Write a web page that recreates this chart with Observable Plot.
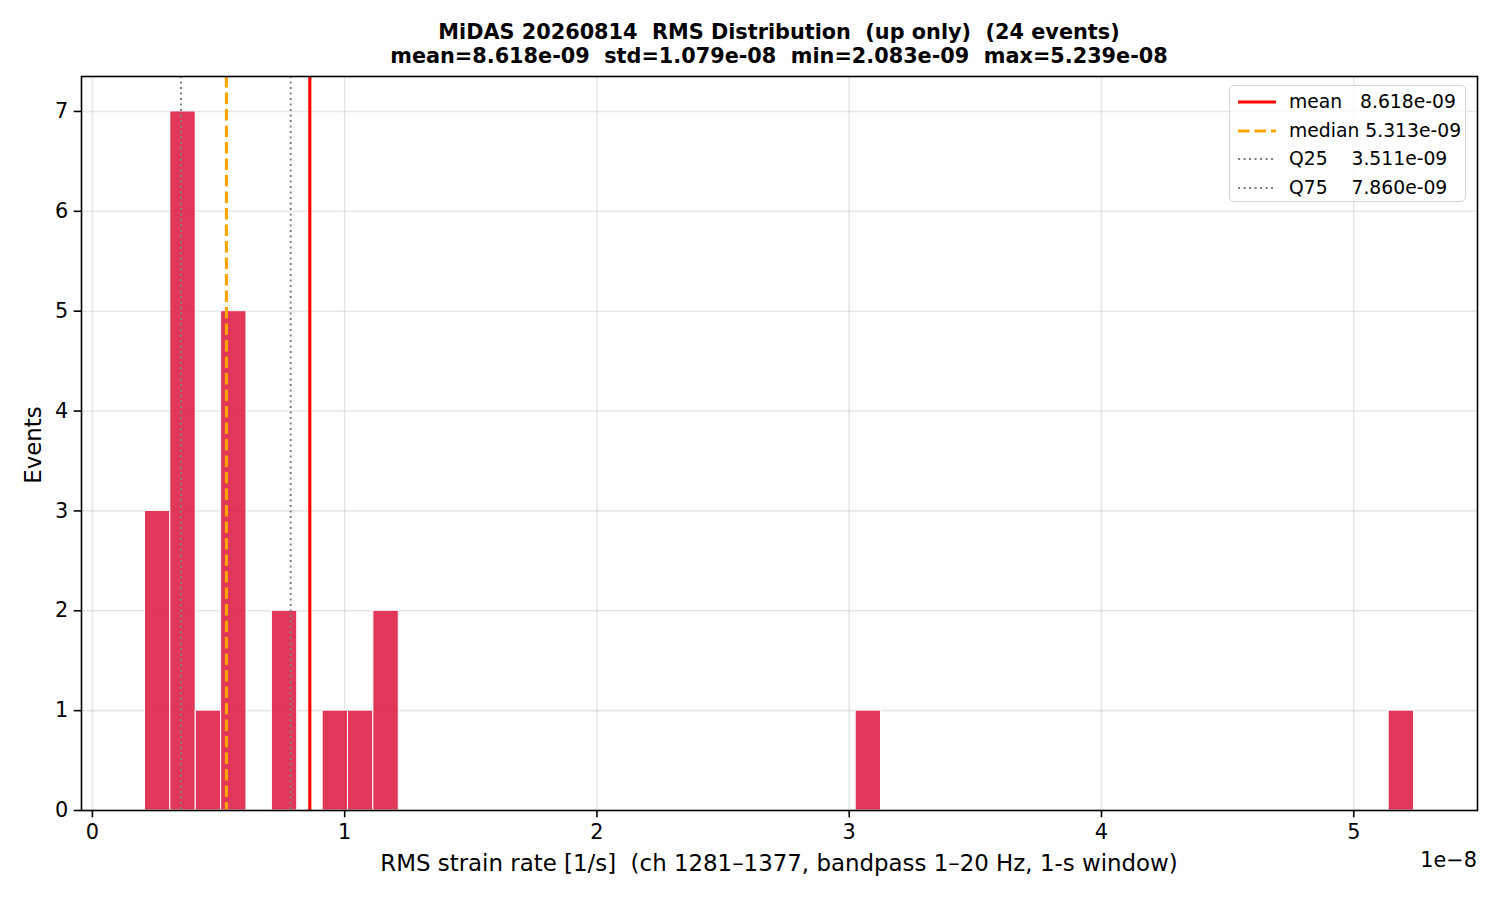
<!DOCTYPE html>
<html>
<head>
<meta charset="utf-8">
<script src="https://cdn.jsdelivr.net/npm/d3@7"></script>
<script src="https://cdn.jsdelivr.net/npm/@observablehq/plot@0.6"></script>
<style>
  body { margin: 0; background: white; font-family: "DejaVu Sans", sans-serif; }
  #wrap { position: relative; width: 1500px; height: 900px; overflow: hidden; }
  .abs { position: absolute; white-space: pre; color: #000; }
  #title { left: 0; width: 1558px; top: 21px; text-align: center; font-weight: bold; font-size: 20.8px; line-height: 23.5px; }
  #xlabel { left: 0; width: 1558px; top: 850px; text-align: center; font-size: 22.9px; line-height: 26px; }
  #ylabel { left: 33px; top: 445px; font-size: 22.9px; line-height: 26px; transform: translate(-50%, -50%) rotate(-90deg); transform-origin: center; }
  #offset { right: 23px; top: 847px; font-size: 20.8px; line-height: 26px; }
  #legend { left: 1229px; top: 85px; width: 237px; height: 117px; border: 1px solid #d4d4d4; border-radius: 5px; background: rgba(255,255,255,0.8); box-sizing: border-box; }
  .item { position: absolute; left: 0; width: 100%; height: 28px; }
  .item svg { position: absolute; left: 7px; top: 6px; }
  .item span { position: absolute; left: 59px; top: 2px; font-size: 18.75px; line-height: 24px; white-space: pre; }
</style>
</head>
<body>
<div id="wrap">
  <div id="chart" style="position:absolute;left:0;top:0"></div>
  <div class="abs" id="title"></div>
  <div class="abs" id="xlabel"></div>
  <div class="abs" id="ylabel"></div>
  <div class="abs" id="offset">1e−8</div>
  <div class="abs" id="legend"></div>
</div>
<script>
// ---- data ----
const titleLines = [
  "MiDAS 20260814  RMS Distribution  (up only)  (24 events)",
  "mean=8.618e-09  std=1.079e-08  min=2.083e-09  max=5.239e-08"
];
const xLabel = "RMS strain rate [1/s]  (ch 1281–1377, bandpass 1–20 Hz, 1-s window)";
const yLabel = "Events";
const dataMin = 2.083e-9;
const dataMax = 5.239e-8;
// 50 histogram bins between dataMin and dataMax
const binCounts = [
  3, 7, 1, 5, 0, 2, 0, 1, 1, 2,
  0, 0, 0, 0, 0, 0, 0, 0, 0, 0,
  0, 0, 0, 0, 0, 0, 0, 0, 1, 0,
  0, 0, 0, 0, 0, 0, 0, 0, 0, 0,
  0, 0, 0, 0, 0, 0, 0, 0, 0, 1
];
const statNames  = ["mean", "median", "Q25", "Q75"];
const statValues = [8.618e-9, 5.313e-9, 3.511e-9, 7.860e-9];
const statLabels = ["mean   8.618e-09", "median 5.313e-09", "Q25    3.511e-09", "Q75    7.860e-09"];
const xTicks = [0, 1e-8, 2e-8, 3e-8, 4e-8, 5e-8];
const yTicks = [0, 1, 2, 3, 4, 5, 6, 7];

// ---- derived table ----
const nBins = binCounts.length;
const bw = (dataMax - dataMin) / nBins;
const bins = binCounts.map((c, i) => ({x1: dataMin + i * bw, x2: dataMin + (i + 1) * bw, count: c}))
  .filter(d => d.count > 0);
const span = dataMax - dataMin;
const xDomain = [dataMin - 0.05 * span, dataMax + 0.05 * span];
const yDomain = [0, 7 * 1.05];

const styles = {
  mean:   {stroke: "red", strokeWidth: 3.1},
  median: {stroke: "orange", strokeWidth: 3.1, strokeDasharray: "11.5,5"},
  Q25:    {stroke: "gray", strokeWidth: 2.0, strokeDasharray: "2.1,3.4"},
  Q75:    {stroke: "gray", strokeWidth: 2.0, strokeDasharray: "2.1,3.4"}
};
const xFmt = d => String(Math.round(d / 1e-8));
const yFmt = d => String(d);

const plot = Plot.plot({
  width: 1500,
  height: 900,
  marginLeft: 81,
  marginRight: 23,
  marginTop: 76,
  marginBottom: 90,
  style: {fontFamily: "DejaVu Sans, sans-serif", fontSize: "20.8px", color: "#000", background: "white"},
  x: {domain: xDomain, label: null},
  y: {domain: yDomain, label: null},
  marks: [
    Plot.gridX(xTicks, {stroke: "#b0b0b0", strokeOpacity: 0.3, strokeWidth: 1.6}),
    Plot.gridY(yTicks, {stroke: "#b0b0b0", strokeOpacity: 0.3, strokeWidth: 1.6}),
    Plot.rectY(bins, {x1: "x1", x2: "x2", y: "count", fill: "#DC143C", fillOpacity: 0.85, stroke: "white", strokeWidth: 1}),
    ...statNames.map((n, i) => Plot.ruleX([statValues[i]], styles[n])),
    Plot.axisX(xTicks, {tickSize: 7.3, tickPadding: 6, tickFormat: xFmt, fontSize: 20.8, label: null, stroke: "#000", strokeWidth: 1.6}),
    Plot.axisY(yTicks, {tickSize: 7.3, tickPadding: 6, tickFormat: yFmt, fontSize: 20.8, label: null, stroke: "#000", strokeWidth: 1.6}),
    Plot.frame({stroke: "#000", strokeWidth: 1.6})
  ]
});
document.getElementById("chart").appendChild(plot);

document.getElementById("title").textContent = titleLines.join("\n");
document.getElementById("xlabel").textContent = xLabel;
document.getElementById("ylabel").textContent = yLabel;

// legend
const leg = document.getElementById("legend");
statNames.forEach((n, i) => {
  const s = styles[n];
  const div = document.createElement("div");
  div.className = "item";
  div.style.top = (2 + i * 28.5) + "px";
  div.innerHTML = `<svg width="42" height="16"><line x1="1" x2="39" y1="8" y2="8" stroke="${s.stroke}" stroke-width="${s.strokeWidth}" ${s.strokeDasharray ? `stroke-dasharray="${s.strokeDasharray}"` : ""}/></svg><span></span>`;
  div.querySelector("span").textContent = statLabels[i];
  leg.appendChild(div);
});
</script>
</body>
</html>
